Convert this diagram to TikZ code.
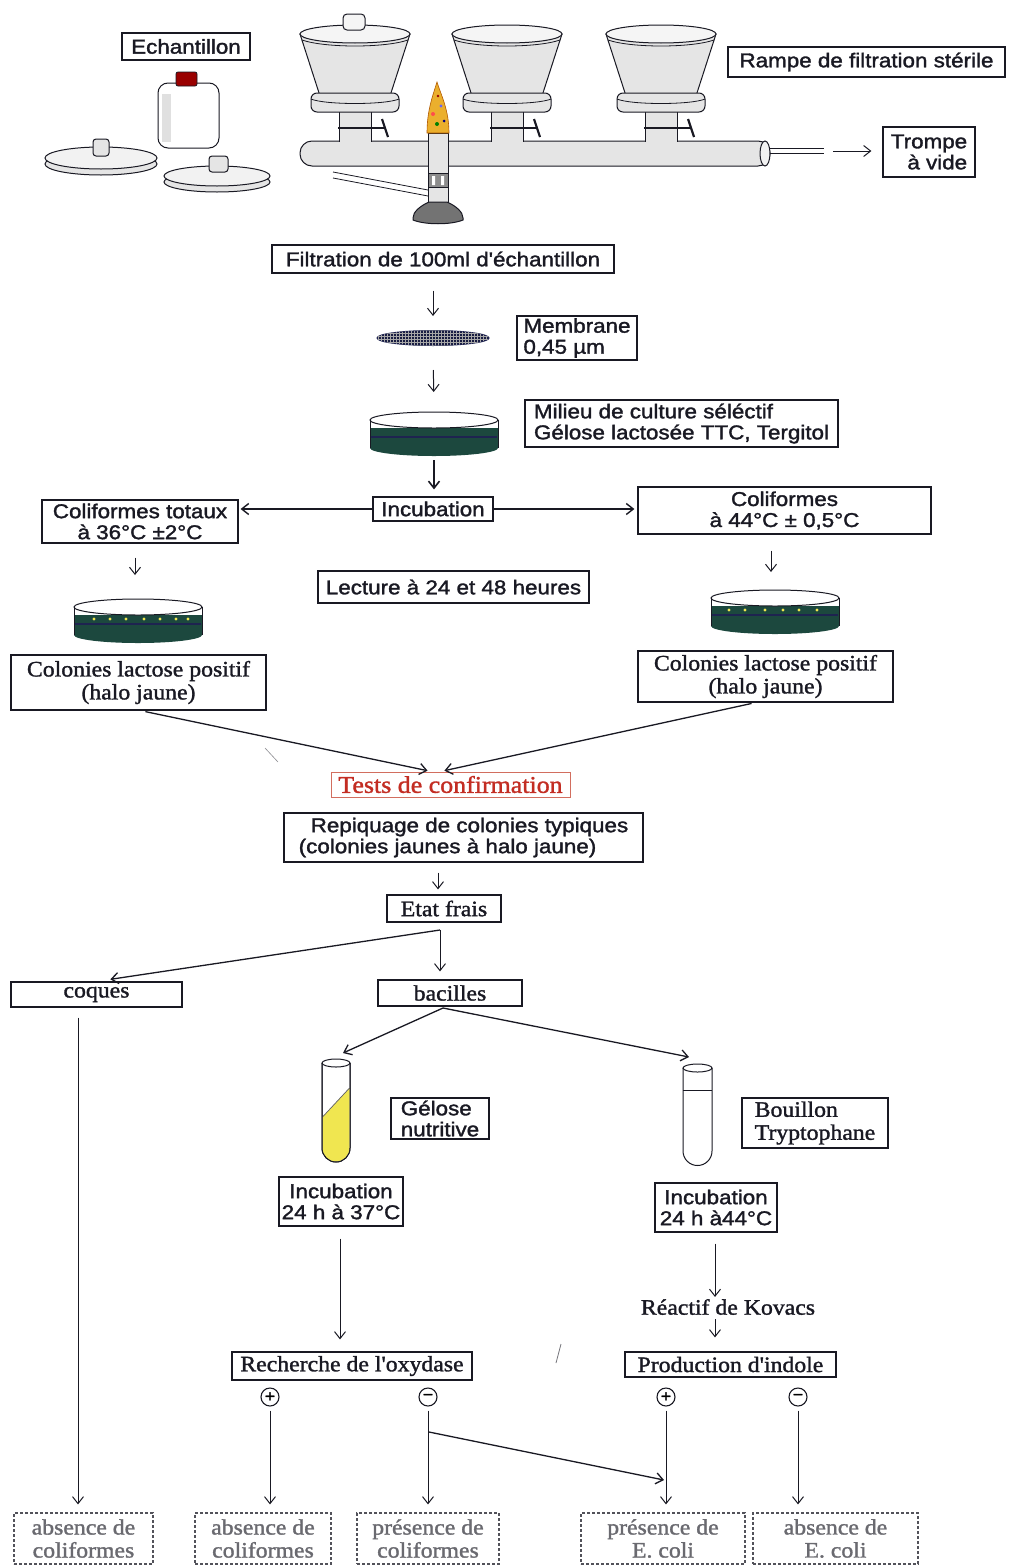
\documentclass[tikz,border=0pt]{standalone}
\usepackage{fontspec}
\setmainfont{Liberation Sans}
\newfontfamily\sfw[FakeStretch=1.12,FakeBold=1.6]{Liberation Sans}
\newfontfamily\srw[FakeStretch=1.08,FakeBold=1.4]{Liberation Serif}
\usetikzlibrary{arrows.meta,shapes.geometric,patterns}
\definecolor{ink}{RGB}{25,25,35}
\definecolor{dishgreen}{RGB}{28,72,62}
\definecolor{navy}{RGB}{30,35,80}
\definecolor{redtxt}{RGB}{195,45,35}
\definecolor{redbox}{RGB}{210,110,95}
\definecolor{flame}{RGB}{235,175,45}
\definecolor{agar}{RGB}{240,230,80}
\tikzset{
 petri/.pic={
  \fill[dishgreen] (-64,8) rectangle (64,28);
  \fill[dishgreen] (0,28) ellipse (64 and 8);
  \draw[navy, line width=1.2pt] (-63,17) -- (63,17);
  \draw[ink, line width=1pt, fill=white] (0,0) ellipse (64 and 8);
  \draw[ink, line width=1pt] (-64,0) -- (-64,28) (64,0) -- (64,28);
 }
}
\begin{document}
\begin{tikzpicture}[x=1pt,y=-1pt,
 box/.style={draw=ink, line width=1.2pt, inner sep=1pt, align=center, text=ink, font=\sfw\fontsize{20}{21}\selectfont},
 sbox/.style={box, font=\srw\fontsize{22}{23}\selectfont},
 fbox/.style={sbox, draw=ink!75, densely dashed, text=ink!65},
 arr/.style={draw=ink, line width=1pt, -{Straight Barb[length=7pt,width=11pt]}},
 sign/.style={circle, draw=ink, line width=1.1pt, inner sep=0pt, minimum size=18pt, font=\sfw\fontsize{16}{16}\selectfont},
 app/.style={draw=ink, line width=1pt, fill=black!10},
]
\fill[white] (0,0) rectangle (1009,1566);
\useasboundingbox (0,0) rectangle (1009,1566);

% ---------- apparatus ----------
\draw[app] (101,164) ellipse (56 and 11);
\draw[app, fill=black!5] (101,158) ellipse (56 and 11);
\draw[app, rounded corners=3pt] (93,139) rectangle (109,156);
\draw[app] (217,182) ellipse (53 and 10);
\draw[app, fill=black!5] (217,176) ellipse (53 and 10);
\draw[app, rounded corners=3pt] (209,156) rectangle (228,172);
\draw[ink, line width=1pt, fill=white, rounded corners=10pt] (158,83) rectangle (219,148);
\fill[black!12] (162,94) rectangle (171,142);
\draw[ink, line width=0.8pt, fill=red!60!black, rounded corners=2pt] (176,72) rectangle (197,86);

% pipe
\draw[app, rounded corners=12pt] (300,141) rectangle (770,166);
\draw[ink, line width=1pt, fill=black!5] (765,153.5) ellipse (5 and 12.5);
\draw[ink, line width=0.8pt] (770,148) -- (824,148) (770,153) -- (824,153);

% funnels
\foreach \cx in {355,507,661} {
 \fill[black!10] ({\cx-16},111) rectangle ({\cx+16},143);
 \draw[ink, line width=1pt] ({\cx-16},112) -- ({\cx-16},141.5) ({\cx+16},112) -- ({\cx+16},141.5);
 \draw[ink, line width=2.4pt] ({\cx-17},128) -- ({\cx+30},128);
 \draw[ink, line width=2.2pt] ({\cx+27},119) -- ({\cx+33},137);
 \draw[app] ({\cx-55},34) -- ({\cx-35},96) -- ({\cx+35},96) -- ({\cx+55},34) -- cycle;
 \draw[app, fill=black!4] (\cx,34) ellipse (55 and 9);
 \draw[ink, line width=0.8pt] ({\cx-53},40) .. controls ({\cx-30},48) and ({\cx+30},48) .. ({\cx+53},40);
 \draw[app, rounded corners=6pt] ({\cx-44},93) rectangle ({\cx+44},112);
 \draw[ink, line width=0.8pt] ({\cx-44},99) .. controls ({\cx-30},105) and ({\cx+30},105) .. ({\cx+44},99);
}
\draw[app, fill=black!4, rounded corners=4pt] (343,14) rectangle (365,30);

% burner
\draw[ink, line width=0.8pt] (333,172) -- (428,190) (333,178) -- (428,196);
\draw[app] (428,133) rectangle (448,202);
\draw[ink, line width=1pt, fill=black!45] (428,173) rectangle (448,187);
\fill[white] (432,176) rectangle (435,185) (441,176) rectangle (444,185);
\draw[ink, line width=1pt, fill=black!55] (429,202) .. controls (420,206) and (413,212) .. (413,218) -- (413,220) .. controls (425,225) and (451,225) .. (463,220) -- (463,218) .. controls (463,212) and (456,206) .. (447,202) -- cycle;
\draw[orange!70!black, line width=0.6pt, fill=flame] (437,82) .. controls (441,95) and (449,110) .. (449,133) -- (427,133) .. controls (427,110) and (433,95) .. (437,82) -- cycle;
\fill[red!70] (433,114) circle (2pt);
\fill[blue!60] (441,106) circle (1.6pt);
\fill[green!50!black] (437,124) circle (2pt);
\fill[blue!50!black] (444,121) circle (1.5pt);
\fill[red!60!black] (438,96) circle (1.4pt);

% ---------- labels of the apparatus ----------
\node[box, minimum width=128, minimum height=27] (ech) at (186,46.5) {Echantillon};
\node[box, minimum width=277, minimum height=30] (rampe) at (866.5,62) {Rampe de filtration stérile};
\node[box, minimum width=92, minimum height=50, align=right] (trompe) at (929,152) {Trompe\\à vide};
\coordinate (vac) at (833,151);
\draw[arr, shorten >=11pt] (vac) -- (vac -| trompe.west);

\node[box, minimum width=342, minimum height=28] (filt) at (443,259) {Filtration de 100ml d'échantillon};

% membrane
\node[ellipse, draw=navy, line width=1pt, fill=navy!80!black, minimum width=112pt, minimum height=15pt, inner sep=0pt, postaction={pattern=grid, pattern color=gray!70}] (mem) at (433,338) {};
\node[box, minimum width=120, minimum height=44, align=left] (membr) at (577,338) {Membrane\\0,45 µm};
\draw[arr, shorten <=17pt, shorten >=14pt] (filt.south -| mem.north) -- (mem.north);

% selective medium dish
\pic at (434,420) {petri};
\coordinate (dish1top) at (434,412);
\coordinate (dish1bot) at (434,456);
\node[box, minimum width=313, minimum height=47, align=left] (milieu) at (681.5,423.5) {Milieu de culture séléctif\\Gélose lactosée TTC, Tergitol};
\draw[arr, shorten <=24pt, shorten >=20pt] (mem.south) -- (dish1top);

\node[box, minimum width=120, minimum height=24] (incub) at (433,509) {Incubation};
\draw[arr, line width=1.6pt, shorten <=4pt, shorten >=7pt] (dish1bot) -- (dish1bot |- incub.north);

\node[box, minimum width=196, minimum height=43] (coltot) at (140,521.5) {Coliformes totaux\\à 36°C ±2°C};
\node[box, minimum width=293, minimum height=47] (col44) at (784.5,510.5) {Coliformes\\à 44°C ± 0,5°C};
\draw[arr, line width=1.4pt, shorten >=2pt] (incub.west) -- (incub.west -| coltot.east);
\draw[arr, line width=1.4pt, shorten >=3pt] (incub.east) -- (incub.east -| col44.west);

\node[box, minimum width=271, minimum height=32] (lecture) at (453.5,587) {Lecture à 24 et 48 heures};

% colony dishes
\pic at (138,607) {petri};
\foreach \px in {-44,-28,-12,6,22,38,50} \fill[agar] (138+\px,619) circle (1.6pt);
\coordinate (dishLtop) at (135,599);
\pic at (775,598) {petri};
\foreach \px in {-46,-30,-10,8,24,42} \fill[agar] (775+\px,610) circle (1.6pt);
\coordinate (dishRtop) at (771,590);
\draw[arr, shorten <=14pt, shorten >=24pt] (coltot.south -| dishLtop) -- (dishLtop);
\draw[arr, shorten <=16pt, shorten >=18pt] (col44.south -| dishRtop) -- (dishRtop);

\node[sbox, minimum width=255, minimum height=55] (colL) at (138.5,682.5) {Colonies lactose positif\\(halo jaune)};
\node[sbox, minimum width=255, minimum height=51] (colR) at (765.5,676.5) {Colonies lactose positif\\(halo jaune)};

\node[sbox, draw=redbox, line width=1pt, text=redtxt, font=\srw\fontsize{24}{25}\selectfont, minimum width=239, minimum height=25] (tests) at (450.5,784.5) {Tests de confirmation};
\draw[arr, line width=1.3pt, shorten <=5pt, shorten >=4pt] ([xshift=2pt]colL.south) -- ([xshift=-19pt]tests.north);
\draw[arr, line width=1.3pt, shorten <=4pt, shorten >=4pt] ([xshift=-10pt]colR.south) -- ([xshift=-10pt]tests.north);
\draw[ink!50, line width=0.6pt] (265,748) -- (278,762);

\node[box, minimum width=359, minimum height=49, align=left] (repiq) at (463.5,837.5) {\hspace*{12pt}Repiquage de colonies typiques\\(colonies jaunes à halo jaune)};
\node[sbox, minimum width=114, minimum height=27] (etat) at (444,908.5) {Etat frais};
\draw[arr, shorten <=10pt, shorten >=5pt] (repiq.south -| 438,0) -- (etat.north -| 438,0);

\node[sbox, minimum width=171, minimum height=25] (coques) at (96.5,994.5) {coques};
\node[sbox, minimum width=144, minimum height=26] (bacilles) at (450,993) {bacilles};
\coordinate (split) at (440,930);
\draw[arr, line width=1.3pt, shorten >=14pt] (split) -- (coques.north);
\draw[arr, shorten >=8pt] (split) -- (split |- bacilles.north);

% tubes
\draw[ink, line width=1pt, fill=white] (322,1063) -- (322,1148) arc (180:360:14pt) -- (350,1063);
\fill[agar] (322.5,1117) -- (349.5,1088) -- (349.5,1148) arc (0:-180:13.5pt) -- cycle;
\draw[ink!70, line width=0.7pt] (322.5,1117) -- (349.5,1088);
\draw[ink, line width=1pt] (322,1063) -- (322,1148) arc (180:360:14pt) -- (350,1063);
\draw[ink, line width=1pt, fill=white] (336,1063) ellipse (14 and 4);
\draw[ink, line width=1pt, fill=white] (683,1068) -- (683,1151) arc (180:360:14.5pt) -- (712,1068);
\draw[ink, line width=0.8pt] (683,1090) -- (712,1090);
\draw[ink, line width=1pt, fill=white] (697.5,1068) ellipse (14.5 and 4);
\coordinate (bs) at (443,1008);
\coordinate (tL) at (343,1053);
\coordinate (tR) at (689,1057);
\draw[arr, line width=1.3pt] (bs) -- (tL);
\draw[arr, line width=1.3pt] (bs) -- (tR);

\node[box, minimum width=98, minimum height=41, align=left] (gelose) at (440,1118.5) {Gélose\\nutritive};
\node[sbox, minimum width=146, minimum height=50, align=left] (bouillon) at (815,1123) {Bouillon\\Tryptophane};

\node[box, minimum width=124, minimum height=49] (inc37) at (341,1201.5) {Incubation\\24 h à 37°C};
\node[box, minimum width=122, minimum height=49] (inc44) at (716,1207.5) {Incubation\\24 h à44°C};

\node[text=ink, font=\srw\fontsize{22}{23}\selectfont, inner sep=1pt] (kovacs) at (728,1307) {Réactif de Kovacs};
\node[sbox, minimum width=240, minimum height=28] (oxyd) at (352,1366) {Recherche de l'oxydase};
\node[sbox, minimum width=211, minimum height=25] (indole) at (730.5,1364.5) {Production d'indole};
\draw[arr, shorten <=12pt, shorten >=12pt] ([xshift=-1pt]inc37.south) -- ([xshift=-1pt]inc37.south |- oxyd.north);
\draw[arr, shorten <=11pt, shorten >=1pt] ([xshift=-1pt]inc44.south) -- ([xshift=-1pt]inc44.south |- kovacs.north);
\draw[arr, shorten <=3pt, shorten >=14pt] ([xshift=-1pt]inc44.south |- kovacs.south) -- ([xshift=-1pt]inc44.south |- indole.north);
\draw[ink!60, line width=0.8pt] (556,1363) -- (561,1344);

\node[sign] (p1) at (270,1397) {+};
\node[sign] (m1) at (428,1397) {−};
\node[sign] (p2) at (666,1397) {+};
\node[sign] (m2) at (798,1397) {−};

\node[fbox, minimum width=139, minimum height=51] (ab1) at (83.5,1538.5) {absence de\\coliformes};
\node[fbox, minimum width=136, minimum height=51] (ab2) at (263,1538.5) {absence de\\coliformes};
\node[fbox, minimum width=142, minimum height=51] (pr1) at (428,1538.5) {présence de\\coliformes};
\node[fbox, minimum width=164, minimum height=51] (pr2) at (663,1538.5) {présence de\\E. coli};
\node[fbox, minimum width=165, minimum height=51] (ab3) at (835.5,1538.5) {absence de\\E. coli};

\draw[arr, shorten <=10pt, shorten >=8pt] ([xshift=-18.5pt]coques.south) -- ([xshift=-18.5pt]coques.south |- ab1.north);
\draw[arr, shorten <=4pt, shorten >=8pt] (p1.south) -- (p1.south |- ab2.north);
\draw[arr, shorten <=4pt, shorten >=8pt] (m1.south) -- (m1.south |- pr1.north);
\draw[arr, shorten <=4pt, shorten >=8pt] (p2.south) -- (p2.south |- pr2.north);
\draw[arr, shorten <=4pt, shorten >=8pt] (m2.south) -- (m2.south |- ab3.north);
\coordinate (mm) at (429,1432);
\coordinate (pe) at (664,1480);
\draw[arr, line width=1.3pt] (mm) -- (pe);
\end{tikzpicture}
\end{document}
